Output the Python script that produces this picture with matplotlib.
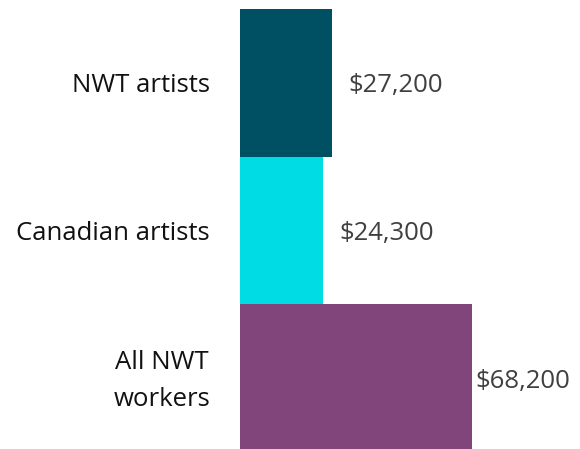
import matplotlib
matplotlib.use("Agg")
from matplotlib import pyplot as plt
from matplotlib.transforms import ScaledTranslation

categories = ["NWT artists", "Canadian artists", "All NWT\nworkers"]
values = [27200, 24300, 68200]
value_labels = ["$27,200", "$24,300", "$68,200"]
colors = ["#005063", "#00DCE3", "#81457C"]
label_offsets = [16, 17, 4]

plt.rcParams["font.family"] = ["Open Sans", "DejaVu Sans"]

fig = plt.figure(figsize=(5.8, 4.49), dpi=100)
ax = fig.add_axes([240 / 580, -3 / 449, 340 / 580, 443 / 449])

ypos = list(range(len(categories)))
ax.barh(ypos, values, height=1.0, color=colors)
ax.set_xlim(0, 100090)
ax.set_ylim(2.5, -0.5)

for y, v, lab, off in zip(ypos, values, value_labels, label_offsets):
    ax.annotate(lab, (v, y), xytext=(off, 0), textcoords="offset pixels",
                va="center_baseline", ha="left", fontsize=18.5, color="#404040")

ax.set_yticks(ypos)
ax.set_yticklabels(categories, fontsize=18.5, color="#111111", va="center",
                   multialignment="center", linespacing=1.65)
ax.tick_params(axis="y", length=0, pad=21.6)
# nudge the category labels down a few pixels
shift = ScaledTranslation(0, -3 / 100, fig.dpi_scale_trans)
for t in ax.get_yticklabels():
    t.set_transform(t.get_transform() + shift)
ax.set_xticks([])
for s in ax.spines.values():
    s.set_visible(False)

fig.savefig("out.png", dpi=100)
